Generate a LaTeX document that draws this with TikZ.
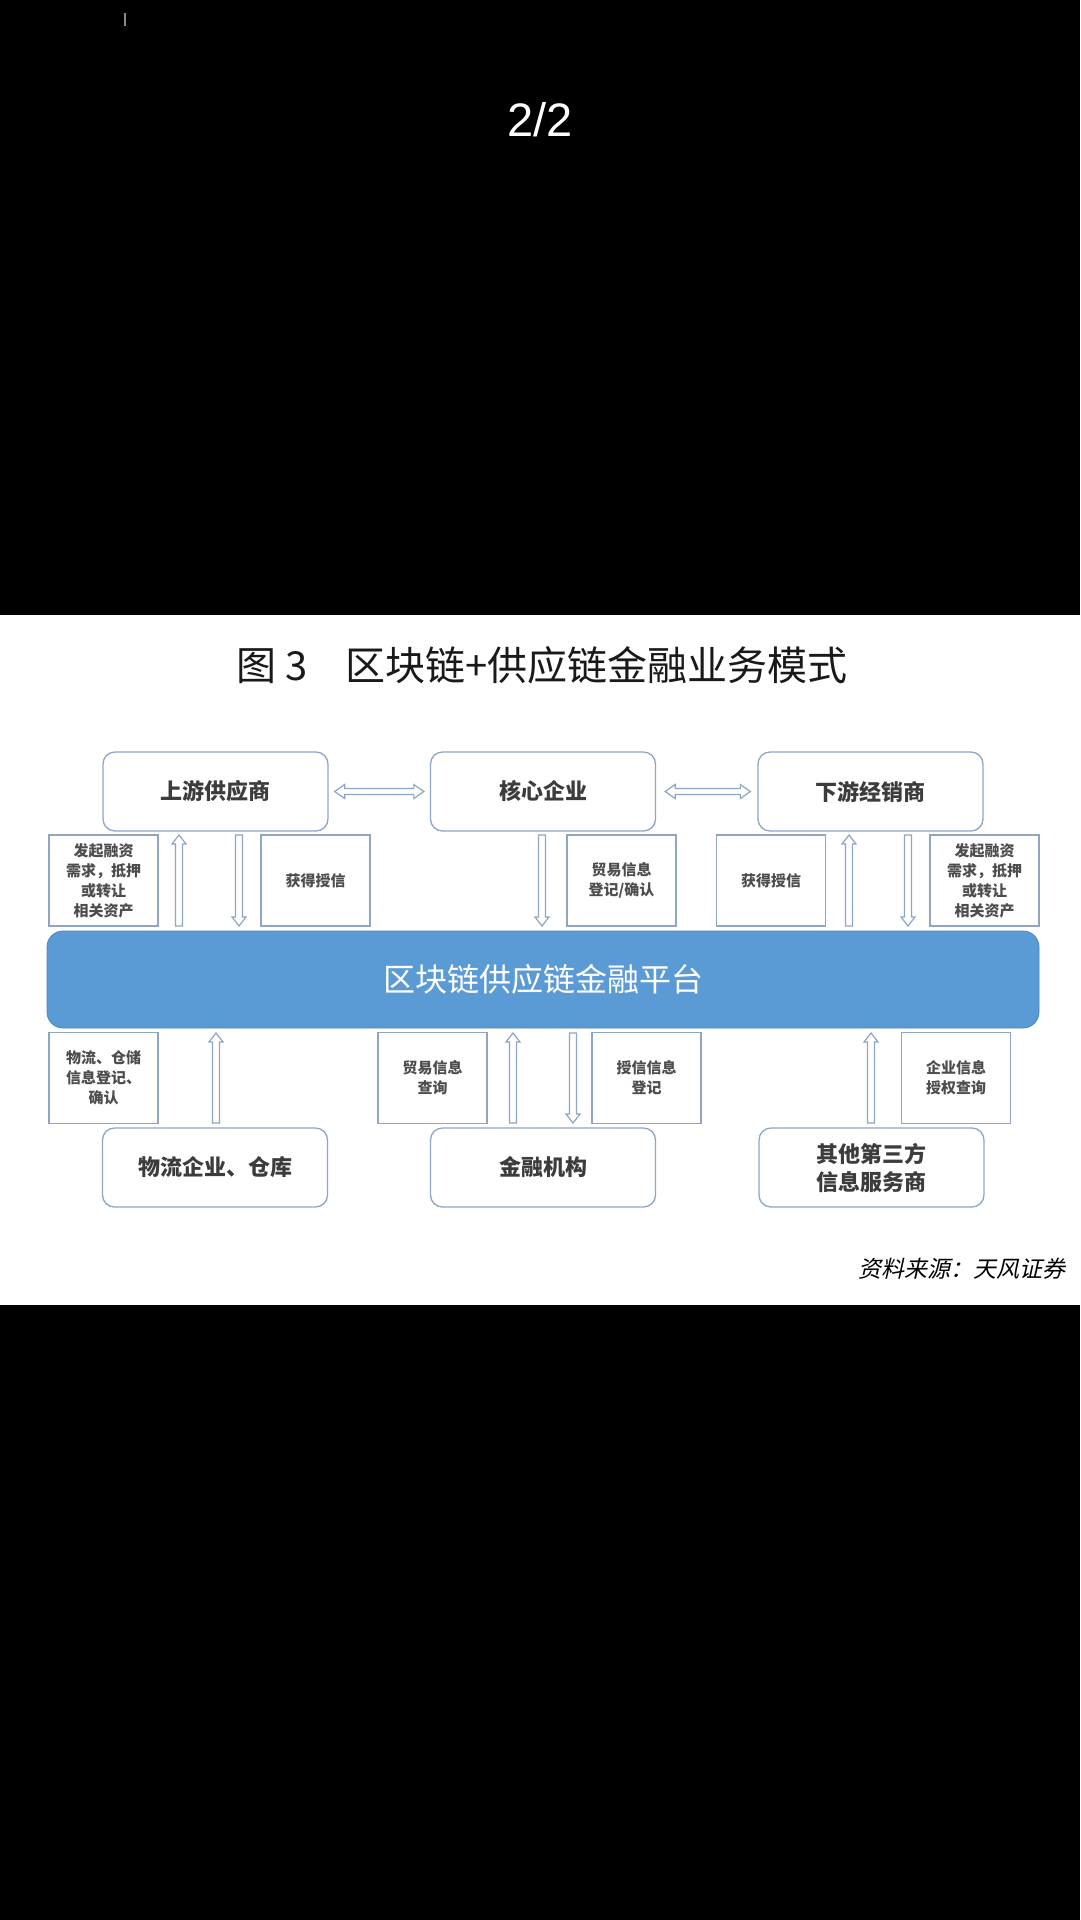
\documentclass[tikz,border=0pt]{standalone}
\usepackage{fontspec}
\setmainfont{Noto Sans CJK SC}
\newfontfamily\srcfont[FakeSlant=0.22]{Noto Sans CJK SC}
\newfontfamily\numfont{Liberation Sans}
\usetikzlibrary{calc}
\definecolor{boxc}{HTML}{8FA5C2}
\definecolor{txtc}{HTML}{3C3C3C}
\definecolor{smtc}{HTML}{4D4D4D}
\definecolor{platc}{HTML}{5B9BD5}
\definecolor{platb}{HTML}{4A86C0}
\definecolor{markc}{HTML}{8A8A8A}
\tikzset{
  topbox/.style={draw=boxc, line width=1.3pt, rounded corners=12pt, fill=white,
    minimum width=225pt, minimum height=79pt, inner sep=0pt, align=center,
    text=txtc, font=\fontsize{22pt}{28pt}\selectfont\bfseries},
  smallbox/.style={draw=boxc, line width=1.2pt, fill=white,
    minimum width=109pt, minimum height=91pt, inner sep=0pt, align=center,
    text=smtc, font=\fontsize{15pt}{20pt}\selectfont\bfseries},
  platbox/.style={draw=platb, line width=0.8pt, fill=platc, rounded corners=16pt,
    minimum width=992pt, minimum height=97pt, inner sep=0pt, text=white,
    font=\fontsize{32pt}{36pt}\selectfont},
  arrline/.style={draw=boxc, line width=1.2pt, fill=white, line join=miter},
  varr/.style={to path={let \p1=(\tikztostart), \p2=(\tikztotarget),
      \n1={(\y2-\y1)/abs(\y2-\y1)} in
      ({\x1-3.5pt},\y1) -- ({\x1-3.5pt},{\y2-(\n1)*9pt}) -- ({\x1-7pt},{\y2-(\n1)*9pt})
      -- (\x1,\y2) -- ({\x1+7pt},{\y2-(\n1)*9pt}) -- ({\x1+3.5pt},{\y2-(\n1)*9pt})
      -- ({\x1+3.5pt},\y1) -- cycle}},
  hdarr/.style={to path={let \p1=(\tikztostart), \p2=(\tikztotarget) in
      (\x1,\y1) -- ({\x1+10pt},{\y1+7pt}) -- ({\x1+10pt},{\y1+3pt}) -- ({\x2-10pt},{\y1+3pt})
      -- ({\x2-10pt},{\y1+7pt}) -- (\x2,\y1) -- ({\x2-10pt},{\y1-7pt}) -- ({\x2-10pt},{\y1-3pt})
      -- ({\x1+10pt},{\y1-3pt}) -- ({\x1+10pt},{\y1-7pt}) -- cycle}},
}
\begin{document}
\begin{tikzpicture}[x=1pt,y=-1pt]
\useasboundingbox (0,0) rectangle (1080,1920);
\fill[black] (0,0) rectangle (1080,1920);
\fill[white] (0,615) rectangle (1080,1305);
% status bar mark
\draw[markc, line width=2pt] (125,13) -- (125,26);
\node[text=white, font=\numfont\fontsize{47pt}{52pt}\selectfont] (page) at (540,120) {2/2};
% title
\node[anchor=west, text=black!90, font=\fontsize{40pt}{44pt}\selectfont, inner sep=0pt]
  (title) at (236,665) {图 3\hspace{38pt}区块链+供应链金融业务模式};
% top row
\node[topbox] (sup)  at (215.5,791.5) {上游供应商};
\node[topbox] (core) at (543,791.5)   {核心企业};
\node[topbox] (dist) at (870.5,791.5) {下游经销商};
% platform
\node[platbox] (plat) at (543,979.5) {区块链供应链金融平台};
% bottom row
\node[topbox] (logi)  at (215,1167.5) {物流企业、仓库};
\node[topbox] (fin)   at (543,1167.5) {金融机构};
\node[topbox] (third) at (871.5,1167.5) {其他第三方\\信息服务商};
% small boxes, upper
\node[smallbox] (s1) at (103.5,880.5) {发起融资\\需求，抵押\\或转让\\相关资产};
\node[smallbox] (s2) at (315.5,880.5) {获得授信};
\node[smallbox] (s3) at (621.5,880.5) {贸易信息\\登记/确认};
\node[smallbox] (s4) at (771,880.5)   {获得授信};
\node[smallbox] (s5) at (984.5,880.5) {发起融资\\需求，抵押\\或转让\\相关资产};
% small boxes, lower
\node[smallbox] (b1) at (103.5,1078) {物流、仓储\\信息登记、\\确认};
\node[smallbox] (b2) at (432.5,1078) {贸易信息\\查询};
\node[smallbox] (b3) at (646.5,1078) {授信信息\\登记};
\node[smallbox] (b4) at (956,1078)   {企业信息\\授权查询};
% arrow end points
\coordinate (ua1) at (179,926);  \coordinate (ua2) at (179,835);
\coordinate (da1) at (239,835);  \coordinate (da2) at (239,926);
\coordinate (db1) at (542,835);  \coordinate (db2) at (542,926);
\coordinate (ub1) at (849,926);  \coordinate (ub2) at (849,835);
\coordinate (dc1) at (908,835);  \coordinate (dc2) at (908,926);
\coordinate (uc1) at (216,1123); \coordinate (uc2) at (216,1033);
\coordinate (ud1) at (513,1123); \coordinate (ud2) at (513,1033);
\coordinate (dd1) at (573,1033); \coordinate (dd2) at (573,1123);
\coordinate (ue1) at (871,1123); \coordinate (ue2) at (871,1033);
% connectors
\draw[arrline] ([xshift=6pt]sup.east) to[hdarr] ([xshift=-6pt]core.west);
\draw[arrline] ([xshift=9pt]core.east) to[hdarr] ([xshift=-7pt]dist.west);
\draw[arrline] (ua1) to[varr] (ua2);
\draw[arrline] (da1) to[varr] (da2);
\draw[arrline] (db1) to[varr] (db2);
\draw[arrline] (ub1) to[varr] (ub2);
\draw[arrline] (dc1) to[varr] (dc2);
\draw[arrline] (uc1) to[varr] (uc2);
\draw[arrline] (ud1) to[varr] (ud2);
\draw[arrline] (dd1) to[varr] (dd2);
\draw[arrline] (ue1) to[varr] (ue2);
% source
\node[anchor=east, text=black, font=\srcfont\fontsize{23pt}{26pt}\selectfont, inner sep=0pt]
  (src) at (1066,1269) {资料来源：天风证券};
\end{tikzpicture}
\end{document}
